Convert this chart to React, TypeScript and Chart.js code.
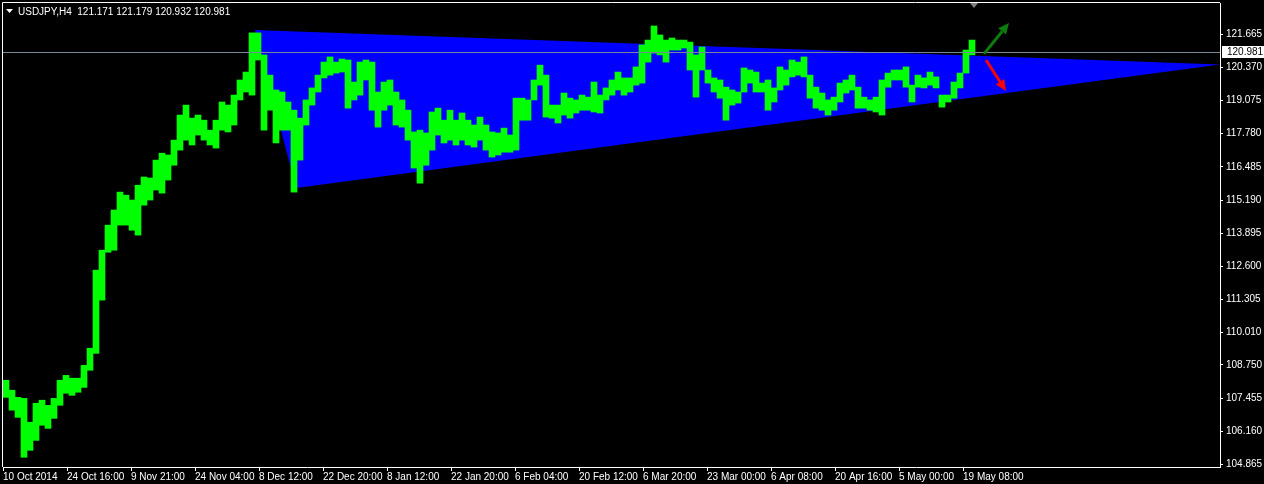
import { useEffect, useRef } from "react";
import { Chart, registerables } from "chart.js";

Chart.register(...registerables);

// ---- data (H4 bars grouped in buckets of 6 bars: high / low per bucket) ----
const BUCKET_BARS = 6;
const highs = [
  108.15, 107.76, 107.48, 107.44, 106.51, 107.25, 107.37, 107.17, 107.44, 108.15,
  108.34, 108.23, 108.23, 108.73, 109.40, 112.45, 113.23, 114.21, 114.80, 115.50,
  115.38, 115.19, 115.77, 116.09, 116.05, 116.75, 117.02, 116.95, 117.53, 118.51,
  118.90, 118.39, 118.51, 118.31, 117.92, 118.31, 119.02, 118.90, 119.29, 119.88,
  120.19, 121.72, 121.72, 120.86, 120.07, 119.49, 119.41, 119.02, 118.70, 118.39,
  119.10, 119.57, 120.07, 120.58, 120.78, 120.58, 120.70, 120.66, 119.80, 120.58,
  120.66, 120.58, 119.41, 119.80, 119.88, 119.41, 119.10, 118.70, 117.85, 117.92,
  117.81, 118.63, 118.78, 118.31, 118.70, 118.31, 118.59, 118.31, 118.12, 118.43,
  118.12, 117.85, 117.81, 118.00, 117.73, 119.17, 119.17, 119.10, 119.88, 120.46,
  120.07, 118.90, 118.90, 119.37, 119.17, 119.10, 119.29, 119.21, 119.80, 119.29,
  119.57, 119.88, 120.19, 119.96, 119.96, 120.39, 121.25, 121.44, 121.99, 121.64,
  121.44, 121.52, 121.44, 121.44, 121.36, 120.86, 121.17, 120.27, 119.96, 119.88,
  119.60, 119.49, 119.41, 120.35, 120.27, 120.19, 119.76, 119.88, 119.57, 120.39,
  120.27, 120.66, 120.58, 120.78, 120.07, 119.60, 119.37, 119.10, 119.21, 119.76,
  119.88, 120.07, 119.60, 119.21, 119.10, 119.21, 119.88, 120.15, 120.27, 120.27,
  120.39, 119.68, 120.07, 119.96, 120.19, 120.00, 119.29, 119.29, 119.80, 120.15,
  121.05, 121.44,
];
const lows = [
  107.48, 106.98, 106.70, 105.14, 105.41, 105.80, 106.39, 106.27, 106.66, 107.17,
  107.64, 107.56, 107.68, 107.87, 108.54, 109.20, 111.28, 113.15, 113.23, 114.21,
  114.21, 114.01, 113.82, 114.99, 115.19, 115.58, 115.46, 115.97, 116.55, 117.14,
  117.53, 117.34, 117.73, 117.53, 117.34, 117.22, 117.92, 117.85, 118.12, 119.10,
  119.41, 119.29, 120.66, 117.92, 118.70, 117.42, 117.92, 117.92, 115.50, 116.75,
  118.12, 118.90, 119.41, 119.96, 120.07, 120.15, 120.19, 118.78, 119.10, 119.29,
  119.88, 118.70, 118.04, 118.70, 118.90, 118.12, 118.04, 117.53, 116.44, 115.85,
  116.55, 117.14, 117.73, 117.42, 117.53, 117.34, 117.53, 117.34, 117.26, 117.53,
  117.14, 116.87, 116.95, 117.06, 117.06, 117.14, 118.31, 118.31, 119.10, 119.68,
  118.43, 118.39, 118.20, 118.51, 118.39, 118.59, 118.70, 118.70, 118.63, 118.59,
  119.10, 119.29, 119.49, 119.29, 119.41, 119.68, 119.76, 120.58, 120.93, 120.86,
  120.58, 121.05, 121.05, 121.13, 120.27, 119.21, 120.27, 119.76, 119.41, 119.17,
  118.31, 118.90, 118.98, 119.41, 119.76, 119.41, 119.41, 118.70, 119.02, 119.49,
  119.68, 120.00, 120.07, 120.00, 119.17, 118.78, 118.70, 118.51, 118.70, 119.02,
  119.37, 119.49, 118.78, 118.78, 118.70, 118.63, 118.51, 119.60, 119.88, 119.88,
  119.60, 119.02, 119.60, 119.57, 119.68, 119.57, 118.82, 119.02, 119.17, 119.57,
  120.15, 120.86,
];

const yTickValues = [
  121.665, 120.37, 119.075, 117.78, 116.485, 115.19, 113.895, 112.6, 111.305,
  110.01, 108.75, 107.455, 106.16, 104.865,
];
const yTickLabels = [
  "121.665", "120.370", "119.075", "117.780", "116.485", "115.190", "113.895",
  "112.600", "111.305", "110.010", "108.750", "107.455", "106.160", "104.865",
];
const xTickBars = [0, 64, 128, 192, 256, 320, 384, 448, 512, 576, 640, 704, 768, 832, 896, 960];
const xTickLabels = [
  "10 Oct 2014", "24 Oct 16:00", "9 Nov 21:00", "24 Nov 04:00", "8 Dec 12:00",
  "22 Dec 20:00", "8 Jan 12:00", "22 Jan 20:00", "6 Feb 04:00", "20 Feb 12:00",
  "6 Mar 20:00", "23 Mar 00:00", "6 Apr 08:00", "20 Apr 16:00", "5 May 00:00",
  "19 May 08:00",
];

// triangle object (bar index, price)
const triangleBars = [252, 293, 1217];
const trianglePrices = [121.83, 115.66, 120.49];

// arrows [fromBar, fromPrice, toBar, toPrice]
const upArrow = [981, 120.9, 1006, 122.11];
const downArrow = [983, 120.66, 1003, 119.45];

const symbolTitle = "USDJPY,H4";
const ohlcValues = ["121.171", "121.179", "120.932", "120.981"];
const currentPrice = 120.981;
const currentPriceLabel = "120.981";
const shiftMarkerBar = 971;

const X_MIN = 0;
const X_MAX = 1217;
const Y_MIN = 104.76;
const Y_MAX = 122.888;

const FONT = '"Liberation Sans", Arial, sans-serif';

function drawArrow(ctx: CanvasRenderingContext2D, x0: number, y0: number, x1: number, y1: number, color: string) {
  const ang = Math.atan2(y1 - y0, x1 - x0);
  const head = 11;
  const w = 5;
  const bx = x1 - head * Math.cos(ang);
  const by = y1 - head * Math.sin(ang);
  ctx.strokeStyle = color;
  ctx.lineWidth = 3;
  ctx.beginPath();
  ctx.moveTo(x0, y0);
  ctx.lineTo(bx, by);
  ctx.stroke();
  ctx.beginPath();
  ctx.moveTo(x1, y1);
  ctx.lineTo(bx - w * Math.sin(ang), by + w * Math.cos(ang));
  ctx.lineTo(bx + w * Math.sin(ang), by - w * Math.cos(ang));
  ctx.closePath();
  ctx.fillStyle = color;
  ctx.fill();
}

const mt4Plugin = {
  id: "mt4deco",
  beforeDraw(chart: any) {
    const ctx = chart.ctx;
    ctx.save();
    ctx.fillStyle = "#000000";
    ctx.fillRect(0, 0, chart.width, chart.height);
    ctx.restore();
  },
  beforeDatasetsDraw(chart: any) {
    const { ctx, chartArea: a, scales } = chart;
    const x = scales.x;
    const y = scales.y;
    ctx.save();
    ctx.beginPath();
    ctx.rect(a.left, a.top, a.right - a.left, a.bottom - a.top);
    ctx.clip();
    ctx.beginPath();
    triangleBars.forEach((b, i) => {
      const px = x.getPixelForValue(b);
      const py = y.getPixelForValue(trianglePrices[i]);
      if (i === 0) ctx.moveTo(px, py);
      else ctx.lineTo(px, py);
    });
    ctx.closePath();
    ctx.fillStyle = "#0000ff";
    ctx.fill();
    ctx.restore();
  },
  afterDatasetsDraw(chart: any) {
    const { ctx, chartArea: a, scales } = chart;
    const x = scales.x;
    const y = scales.y;
    ctx.save();
    // current price line
    const py = Math.round(y.getPixelForValue(currentPrice)) + 0.5;
    ctx.strokeStyle = "#778899";
    ctx.lineWidth = 1;
    ctx.beginPath();
    ctx.moveTo(a.left, py);
    ctx.lineTo(a.right, py);
    ctx.stroke();
    // arrows
    drawArrow(ctx, x.getPixelForValue(upArrow[0]), y.getPixelForValue(upArrow[1]),
      x.getPixelForValue(upArrow[2]), y.getPixelForValue(upArrow[3]), "#0c7d0c");
    drawArrow(ctx, x.getPixelForValue(downArrow[0]), y.getPixelForValue(downArrow[1]),
      x.getPixelForValue(downArrow[2]), y.getPixelForValue(downArrow[3]), "#ff0000");
    ctx.restore();
  },
  afterDraw(chart: any) {
    const { ctx, chartArea: a, scales } = chart;
    const x = scales.x;
    const y = scales.y;
    ctx.save();
    // frame (left & top)
    ctx.strokeStyle = "#ffffff";
    ctx.lineWidth = 1;
    ctx.beginPath();
    ctx.moveTo(a.left - 0.5, a.bottom);
    ctx.lineTo(a.left - 0.5, a.top - 0.5);
    ctx.lineTo(a.right, a.top - 0.5);
    ctx.stroke();
    // shift marker
    const sx = x.getPixelForValue(shiftMarkerBar);
    ctx.fillStyle = "#808080";
    ctx.beginPath();
    ctx.moveTo(sx - 4, a.top);
    ctx.lineTo(sx + 4, a.top);
    ctx.lineTo(sx, a.top + 5);
    ctx.closePath();
    ctx.fill();
    // title
    ctx.fillStyle = "#ffffff";
    ctx.beginPath();
    ctx.moveTo(6, 9);
    ctx.lineTo(13, 9);
    ctx.lineTo(9.5, 13);
    ctx.closePath();
    ctx.fill();
    ctx.font = `10px ${FONT}`;
    ctx.textBaseline = "middle";
    ctx.textAlign = "left";
    ctx.fillText(symbolTitle + "  " + ohlcValues.join(" "), 18, 12);
    // current price label
    const py = Math.round(y.getPixelForValue(currentPrice));
    ctx.fillStyle = "#ffffff";
    ctx.fillRect(a.right + 2, py - 6, chart.width - a.right - 2, 12);
    ctx.fillStyle = "#000000";
    ctx.fillText(currentPriceLabel, a.right + 7, py + 0.5);
    ctx.restore();
  },
};

export default function App() {
  const canvasRef = useRef<HTMLCanvasElement | null>(null);

  useEffect(() => {
    const canvas = canvasRef.current;
    if (!canvas) return;
    const barData = highs.map((h, i) => ({
      x: i * BUCKET_BARS + BUCKET_BARS / 2,
      y: [lows[i], h],
    }));
    const chart = new Chart(canvas, {
      type: "bar",
      data: {
        datasets: [
          {
            data: barData as any,
            backgroundColor: "#00ff00",
            borderWidth: 0,
            barThickness: BUCKET_BARS,
          },
        ],
      },
      options: {
        animation: false,
        responsive: false,
        maintainAspectRatio: false,
        devicePixelRatio: 1,
        layout: { padding: { left: 3, top: 3, right: 0, bottom: 0 } },
        plugins: {
          legend: { display: false },
          tooltip: { enabled: false },
        },
        scales: {
          x: {
            type: "linear",
            min: X_MIN,
            max: X_MAX,
            position: "bottom",
            offset: false,
            afterBuildTicks: (s: any) => {
              s.ticks = xTickBars.map((v) => ({ value: v }));
            },
            afterFit: (s: any) => {
              s.height = 17;
              s.paddingLeft = 0;
              s.paddingRight = 0;
            },
            ticks: {
              autoSkip: false,
              maxRotation: 0,
              minRotation: 0,
              align: "start",
              color: "#ffffff",
              padding: 0,
              font: { family: FONT, size: 10 },
              callback: (_v: any, i: number) => xTickLabels[i],
            },
            grid: {
              offset: false,
              drawOnChartArea: false,
              drawTicks: true,
              tickLength: 4,
              color: "#ffffff",
            },
            border: { display: true, color: "#ffffff", width: 1 },
          },
          y: {
            type: "linear",
            position: "right",
            min: Y_MIN,
            max: Y_MAX,
            afterBuildTicks: (s: any) => {
              s.ticks = yTickValues.map((v) => ({ value: v }));
            },
            afterFit: (s: any) => {
              s.width = 44;
              s.paddingTop = 0;
              s.paddingBottom = 0;
            },
            ticks: {
              autoSkip: false,
              color: "#ffffff",
              padding: 3,
              font: { family: FONT, size: 10 },
              callback: (_v: any, i: number) => yTickLabels[i],
            },
            grid: {
              drawOnChartArea: false,
              drawTicks: true,
              tickLength: 3,
              color: "#ffffff",
            },
            border: { display: true, color: "#ffffff", width: 1 },
          },
        },
      } as any,
      plugins: [mt4Plugin],
    });
    return () => chart.destroy();
  }, []);

  return (
    <div
      style={{
        position: "fixed",
        left: 0,
        top: 0,
        width: 1264,
        height: 484,
        background: "#000000",
      }}
    >
      <canvas ref={canvasRef} width={1264} height={484} style={{ display: "block" }} />
    </div>
  );
}
